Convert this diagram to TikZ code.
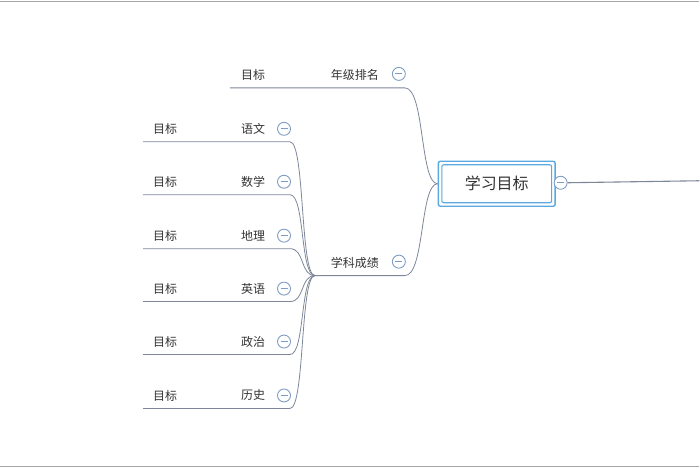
\documentclass[tikz,border=0pt]{standalone}
\usepackage{fontspec}
\newfontfamily\cjk{Noto Sans CJK SC}
\definecolor{lnc}{HTML}{7D8799}
\definecolor{cc}{HTML}{7F9CC4}
\definecolor{rb}{HTML}{5AA9E0}
\begin{document}
\begin{tikzpicture}[x=1pt,y=-1pt,
  lbl/.style={font=\cjk\fontsize{12}{14}\selectfont,text=black!80,inner sep=0pt},
  col/.style={draw=cc,line width=0.9pt,circle,minimum size=13pt,inner sep=0pt,fill=white,
    path picture={\draw[cc,line width=0.9pt] ([xshift=-3.5pt]path picture bounding box.center)--([xshift=3.5pt]path picture bounding box.center);}},
  ln/.style={draw=lnc,line width=0.8pt}]
\fill[white] (0,0) rectangle (700,470);
\draw[gray!70,line width=0.8pt] (0,1)--(700,1) (0,467)--(700,467);
% root
\node[draw=rb,line width=1.4pt,rounded corners=2pt,minimum width=117pt,minimum height=45pt,inner sep=0pt] (rootout) at (497,184) {};
\node[draw=rb,line width=1.1pt,rounded corners=2pt,minimum width=110pt,minimum height=38pt,font=\cjk\fontsize{16}{18}\selectfont,text=black!80] (root) at (497,184) {学习目标};
\node[col] (rc) at (561,183) {};
\coordinate (rend) at (700,181);
\draw[ln,line width=1.1pt] (rc.east) -- (rend);
% branch 1
\node[lbl] (b1) at (355,75) {年级排名};
\node[col] (b1c) at (399,74) {};
\node[lbl] (g0) at (253,75) {目标};
\coordinate (b1l) at (230,88); \coordinate (b1r) at (405,88);
\draw[ln] (b1l) -- (b1r) .. controls (425,88) and (420,184) .. (rootout.west);
% branch 2
\node[lbl] (b2) at (355,263) {学科成绩};
\node[col] (b2c) at (399,262) {};
\coordinate (b2l) at (315,276); \coordinate (b2r) at (405,276);
\draw[ln] (b2l) -- (b2r) .. controls (425,276) and (420,184) .. (rootout.west);
% leaves
\foreach \t/\y [count=\i] in {语文/129,数学/182,地理/236,英语/289,政治/342,历史/396}{
  \node[lbl] (s\i) at (253,\y) {\t};
  \node[col] (s\i c) at (284,\y) {};
  \node[lbl] (m\i) at (165,\y) {目标};
  \coordinate (l\i) at (143,\y+13);
  \coordinate (r\i) at (290,\y+13);
  \draw[ln] (l\i) -- (r\i) .. controls (305,\y+13) and (300,276) .. (b2l);
}
\end{tikzpicture}
\end{document}
